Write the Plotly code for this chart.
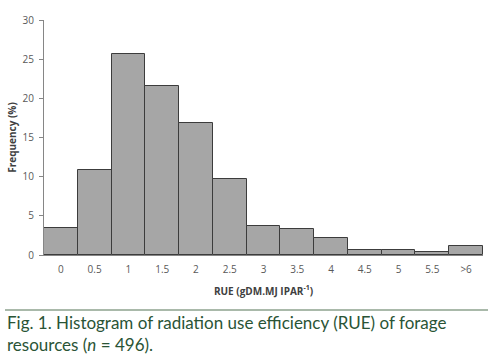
import plotly.graph_objects as go

categories = ["0", "0.5", "1", "1.5", "2", "2.5", "3", "3.5", "4", "4.5", "5", "5.5", ">6"]
frequency = [3.5, 10.9, 25.6, 21.6, 16.9, 9.7, 3.7, 3.3, 2.2, 0.6, 0.6, 0.4, 1.2]
y_ticks = [0, 5, 10, 15, 20, 25, 30]

W, H = 492, 359
L, R, T, B = 44, 9, 20, 104
pw = W - L - R
ph = H - T - B

def px_x(p):
    return (p - L) / pw

def px_y(p):
    return (H - B - p) / ph

fig = go.Figure(go.Bar(
    x=categories, y=frequency,
    marker=dict(color="#a6a6a6", line=dict(color="#3c3c3c", width=1)),
    hoverinfo="skip",
))

fig.update_layout(
    width=W, height=H,
    margin=dict(l=L, r=R, t=T, b=B, autoexpand=False),
    paper_bgcolor="white", plot_bgcolor="white",
    bargap=0, showlegend=False,
    font=dict(family="Open Sans", size=10, color="#595959"),
    xaxis=dict(
        type="category", showgrid=False, showline=True, linecolor="#868686",
        linewidth=1, ticks="", tickfont=dict(size=10, color="#595959"),
        ticklabelstandoff=5, automargin=False,
        title=dict(text="<b>RUE (gDM.MJ IPAR<sup>-1</sup>)</b>", standoff=12,
                   font=dict(size=10, color="#404040")),
    ),
    yaxis=dict(
        range=[0, 30], tickvals=y_ticks, showgrid=False, showline=True,
        linecolor="#868686", linewidth=1, ticks="outside", ticklen=4,
        tickcolor="#868686", tickfont=dict(size=10, color="#595959"),
        ticklabelstandoff=3, automargin=False,
        title=dict(text="<b>Frequency (%)</b>", standoff=4,
                   font=dict(size=10, color="#404040")),
        zeroline=False,
    ),
)

fig.add_shape(type="line", xref="paper", yref="paper",
              x0=px_x(5), x1=px_x(488), y0=px_y(310), y1=px_y(310),
              line=dict(color="#a9b9aa", width=2))

fig.add_annotation(
    xref="paper", yref="paper", x=px_x(5), y=px_y(310),
    xanchor="left", yanchor="top", align="left", showarrow=False,
    text="Fig. 1. Histogram of radiation use efficiency (RUE) of forage<br>resources (<i>n</i> = 496).",
    font=dict(family="Lato", size=17, color="#2a5436"),
)

fig.write_html(
    "out.html",
    config={"displayModeBar": False},
    post_script="document.body.style.margin='0';document.body.style.overflow='hidden';",
)
